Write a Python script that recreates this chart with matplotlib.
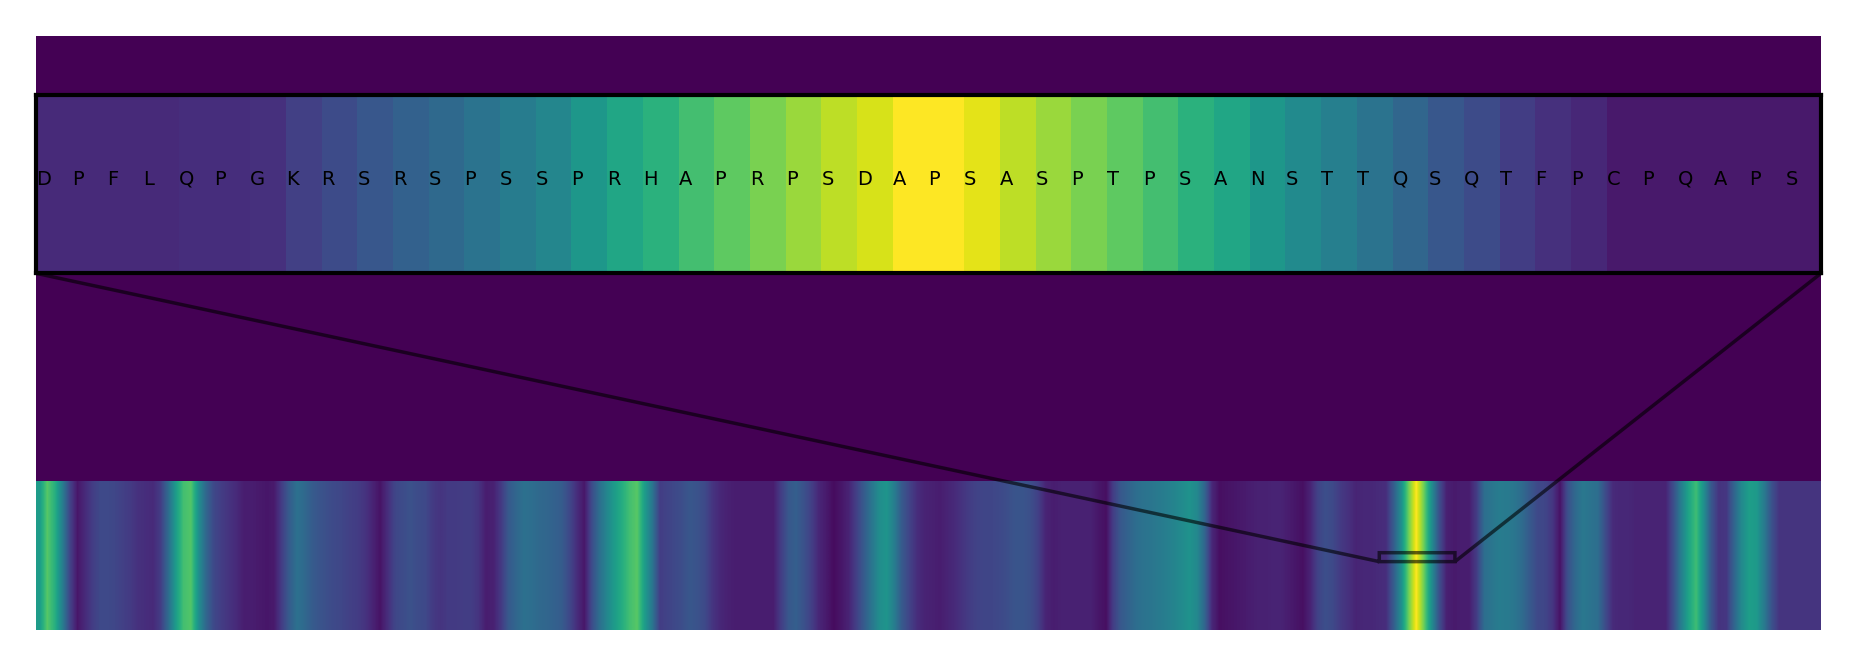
import matplotlib.pyplot as plt
import numpy as np

# sequence length and the 50-residue window shown in the zoom
seq_len = 1180
win_start = 888
step = 5  # profile is read every 5 residues

# score profile along the whole sequence (one value per 5 residues)
profile = [
    0.55, 0.74, 0.63, 0.43, 0.20, 0.06, 0.12, 0.18, 0.22, 0.22,
    0.21, 0.19, 0.17, 0.14, 0.13, 0.12, 0.18, 0.35, 0.55, 0.70,
    0.73, 0.50, 0.33, 0.22, 0.18, 0.15, 0.12, 0.08, 0.08, 0.07,
    0.06, 0.07, 0.18, 0.29, 0.37, 0.34, 0.29, 0.26, 0.24, 0.22,
    0.21, 0.19, 0.18, 0.15, 0.10, 0.05, 0.13, 0.21, 0.23, 0.25,
    0.23, 0.22, 0.17, 0.15, 0.17, 0.17, 0.18, 0.18, 0.15, 0.08,
    0.09, 0.17, 0.28, 0.33, 0.37, 0.36, 0.34, 0.33, 0.31, 0.29,
    0.22, 0.13, 0.06, 0.23, 0.36, 0.46, 0.55, 0.62, 0.70, 0.74,
    0.55, 0.39, 0.18, 0.20, 0.22, 0.24, 0.27, 0.25, 0.22, 0.15,
    0.11, 0.09, 0.08, 0.08, 0.08, 0.08, 0.08, 0.08, 0.18, 0.27,
    0.30, 0.25, 0.19, 0.11, 0.07, 0.03, 0.06, 0.10, 0.19, 0.29,
    0.39, 0.49, 0.52, 0.42, 0.28, 0.20, 0.13, 0.10, 0.09, 0.08,
    0.10, 0.12, 0.15, 0.18, 0.20, 0.21, 0.21, 0.22, 0.24, 0.26,
    0.26, 0.24, 0.19, 0.10, 0.08, 0.09, 0.09, 0.09, 0.09, 0.09,
    0.06, 0.04, 0.19, 0.28, 0.32, 0.36, 0.38, 0.39, 0.41, 0.43,
    0.45, 0.48, 0.51, 0.47, 0.33, 0.11, 0.04, 0.05, 0.06, 0.07,
    0.08, 0.09, 0.09, 0.10, 0.10, 0.08, 0.06, 0.04, 0.10, 0.20,
    0.24, 0.22, 0.17, 0.14, 0.10, 0.11, 0.11, 0.12, 0.13, 0.29,
    0.49, 0.78, 1.00, 0.78, 0.50, 0.25, 0.09, 0.07, 0.08, 0.08,
    0.18, 0.36, 0.39, 0.42, 0.41, 0.39, 0.35, 0.28, 0.22, 0.21,
    0.16, 0.05, 0.24, 0.34, 0.40, 0.38, 0.36, 0.23, 0.12, 0.11,
    0.11, 0.10, 0.10, 0.10, 0.10, 0.10, 0.24, 0.42, 0.58, 0.69,
    0.50, 0.27, 0.15, 0.16, 0.32, 0.47, 0.56, 0.54, 0.41, 0.25,
    0.15, 0.15, 0.15, 0.15, 0.15, 0.15,
]

# residues and scores in the zoomed window
window_res = list("DPFLQPGKRSRSPSSPRHAPRPSDAPSASPTPSANSTTQSQTFPCPQAPS")
window_scores = [
    0.12, 0.12, 0.12, 0.12, 0.13, 0.13, 0.14, 0.19, 0.23, 0.27,
    0.31, 0.34, 0.38, 0.42, 0.46, 0.53, 0.59, 0.64, 0.70, 0.75,
    0.80, 0.85, 0.90, 0.94, 1.00, 1.00, 0.96, 0.90, 0.85, 0.80,
    0.75, 0.70, 0.64, 0.59, 0.53, 0.48, 0.43, 0.38, 0.33, 0.27,
    0.23, 0.18, 0.14, 0.11, 0.07, 0.07, 0.07, 0.07, 0.07, 0.07,
]

cmap = plt.get_cmap('viridis')

fig = plt.figure(figsize=(18.57, 6.67), dpi=100)
ax = fig.add_axes([36 / 1857, 37 / 667, 1785 / 1857, 594.5 / 667])
ax.set_facecolor(cmap(0.0))
ax.imshow(np.array(profile)[np.newaxis, :], cmap='viridis', vmin=0, vmax=1,
          aspect='auto', extent=(0, len(profile) * step, 0, 1),
          interpolation='bilinear', interpolation_stage='data')
ax.set_xlim(0, seq_len)
ax.set_ylim(0, 4)
ax.set_xticks([])
ax.set_yticks([])
for s in ax.spines.values():
    s.set_visible(False)

# zoomed window with residue letters
axins = ax.inset_axes([0, 0.6, 1, 0.3])
axins.imshow(np.array(window_scores)[np.newaxis, :], cmap='viridis', vmin=0, vmax=1,
             aspect='auto', extent=(win_start, win_start + len(window_scores), 0, 1),
             interpolation='nearest')
axins.set_xlim(win_start, win_start + len(window_scores))
axins.set_ylim(0.46, 0.52)
for i, aa in enumerate(window_res):
    axins.text(win_start + i, 0.4917, aa, ha='left', va='center', fontsize=14)
axins.set_xticks([])
axins.set_yticks([])
for s in axins.spines.values():
    s.set_linewidth(3)
    s.set_color('black')

ind = ax.indicate_inset_zoom(axins, edgecolor='black', alpha=0.6, linewidth=2.5)
# lines from the lower corners of the zoom box to the lower corners of the inset
for con, vis in zip(ind.connectors, [True, False, True, False]):
    con.set_visible(vis)

fig.savefig('out.png', dpi=100)
